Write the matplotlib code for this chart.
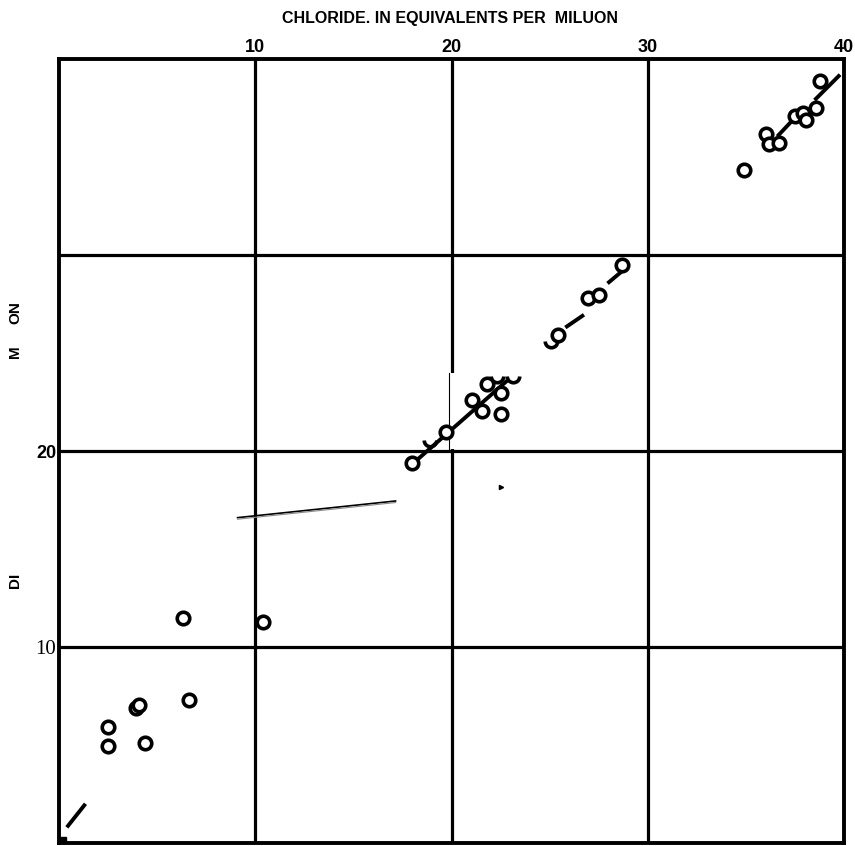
import matplotlib
matplotlib.use("Agg")
import matplotlib.pyplot as plt
from matplotlib.path import Path
from matplotlib.patches import Rectangle

# ---- data (chloride vs. ..., equivalents per million) ----
x_low = [2.5, 2.5, 3.9, 4.1, 4.4, 6.6, 6.3, 10.4]
y_low = [5.9, 4.95, 6.9, 7.05, 5.1, 7.3, 11.5, 11.3]

x_mid = [18.0, 19.7, 21.05, 21.55, 21.8, 22.5, 22.5]
y_mid = [19.4, 20.95, 22.6, 22.05, 23.4, 22.95, 21.9]

x_upmid = [25.45, 26.95, 27.5, 28.7]
y_upmid = [25.9, 27.8, 27.95, 29.5]

x_high = [34.9, 36.05, 36.2, 36.7, 37.5, 37.9, 38.05, 38.55, 38.8]
y_high = [34.35, 36.15, 35.65, 35.7, 37.1, 37.25, 36.9, 37.5, 38.9]

# partially visible (cut) markers
x_part = [18.9, 22.3, 23.15, 25.05]
y_part = [20.55, 23.85, 23.85, 25.6]

# fitted line segments: (x0, x1), (y0, y1)
seg_x = [(0.4, 1.35), (18.25, 22.85), (25.8, 26.75), (27.95, 28.9), (36.6, 37.45), (38.5, 39.8)]
seg_y = [(0.8, 2.0), (19.55, 23.6), (26.3, 26.95), (28.55, 29.35), (36.05, 36.95), (37.9, 39.2)]

# stray thin double line
stray_x = [9.1, 17.15]
stray_y = [16.6, 17.45]

grid_vals = [10, 20, 30]
xtick_vals = [10, 20, 30, 40]
xtick_labels = ["10", "20", "30", "40"]
ytick_vals = [10, 20]
ytick_labels = ["10", "20"]

title = "CHLORIDE. IN EQUIVALENTS PER  MILUON"

# ---- figure ----
fig = plt.figure(figsize=(8.55, 8.46), dpi=100)
ax = fig.add_axes([59 / 855, 3 / 846, 785 / 855, 784 / 846])
ax.set_xlim(0, 40)
ax.set_ylim(0, 40)

for v in grid_vals:
    ax.axvline(v, color="black", lw=2.3, zorder=1)
    ax.axhline(v, color="black", lw=2.3, zorder=1)

# white patch where the 20-gridline is replaced by a thin line
ax.add_patch(Rectangle((19.75, 20.1), 3.9, 3.9, facecolor="white", edgecolor="none", zorder=1.5))
ax.plot([19.85, 19.85], [20.1, 24.0], color="black", lw=0.8, zorder=1.6)

for s in ax.spines.values():
    s.set_linewidth(2.8)
    s.set_color("black")

mk = dict(marker="o", linestyle="none", markersize=9, markerfacecolor="white",
          markeredgecolor="black", markeredgewidth=2.6, zorder=3)
for xs, ys in [(x_low, y_low), (x_mid, y_mid), (x_upmid, y_upmid), (x_high, y_high)]:
    ax.plot(xs, ys, **mk)

half = Path.arc(180, 360)
ax.plot(x_part, y_part, marker=half, linestyle="none", markersize=9,
        markerfacecolor="none", markeredgecolor="black", markeredgewidth=2.6, zorder=3)

for sx, sy in zip(seg_x, seg_y):
    ax.plot(sx, sy, color="black", lw=2.8, solid_capstyle="butt", zorder=2)

ax.plot(stray_x, stray_y, color="black", lw=1.2, zorder=2)
ax.plot(stray_x, [stray_y[0] - 0.08, stray_y[1] - 0.08], color="#888888", lw=0.8, zorder=2)

# small marks
ax.plot([0.2], [0.15], marker="s", color="black", markersize=4, zorder=3)
ax.plot([22.5], [18.15], marker=">", color="black", markersize=3, zorder=3)

# ticks
ax.xaxis.tick_top()
ax.set_xticks(xtick_vals)
ax.set_xticklabels(xtick_labels, fontfamily="Liberation Sans", fontweight="bold", fontsize=13)
ax.tick_params(axis="x", length=0, pad=2)
ax.set_yticks(ytick_vals)
ax.set_yticklabels(ytick_labels)
ax.tick_params(axis="y", length=0, pad=2)
lbls = ax.get_yticklabels()
lbls[0].set_fontfamily("Liberation Serif")
lbls[0].set_fontsize(15)
lbls[1].set_fontfamily("Liberation Sans")
lbls[1].set_fontweight("bold")
lbls[1].set_fontsize(13)

fig.text(450 / 855, 1 - 18 / 846, title, ha="center", va="center",
         fontfamily="Liberation Sans", fontweight="bold", fontsize=11.5)

# fragments of the rotated y-axis label
for txt, yy in [("M", 352), ("ON", 313), ("DI", 580)]:
    fig.text(15 / 855, 1 - yy / 846, txt, rotation=90, ha="center", va="center",
             fontfamily="Liberation Sans", fontweight="bold", fontsize=11)

fig.savefig("out.png", dpi=100, facecolor="white")
